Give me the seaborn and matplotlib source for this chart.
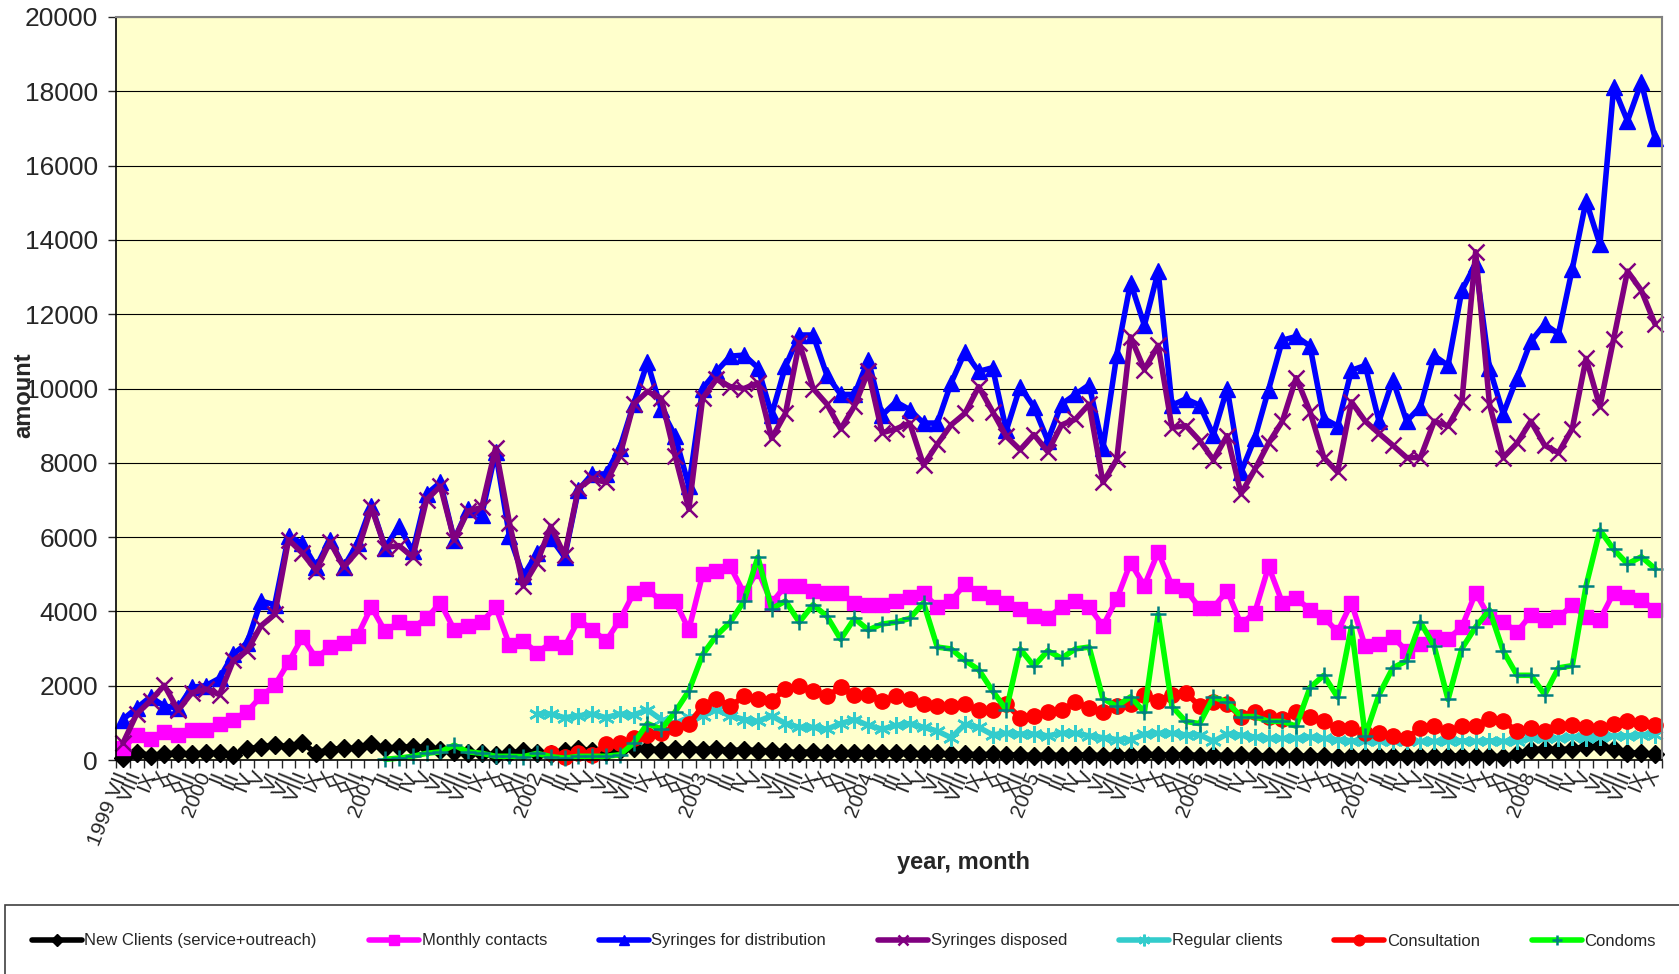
import numpy as np
import pandas as pd
import seaborn as sns
import matplotlib.pyplot as plt
from matplotlib.patches import Rectangle

sns.set_style("white")
plt.rcParams['font.family'] = ['Liberation Sans', 'DejaVu Sans']

# x categories: 1999 VII ... 2008 X
roman = ['I', 'II', 'III', 'IV', 'V', 'VI', 'VII', 'VIII', 'IX', 'X', 'XI', 'XII']
years = [2000, 2001, 2002, 2003, 2004, 2005, 2006, 2007]
month_labels = ['1999 VII'] + roman[7:]
for y in years:
    month_labels += [str(y)] + roman[1:]
month_labels += ['2008'] + roman[1:10]

new_clients = [50, 200, 120, 170, 180, 160, 190, 180, 130, 300,
               350, 400, 360, 450, 190, 280, 320, 310, 430, 310,
               350, 350, 340, 270, 220, 180, 180, 130, 180, 250,
               200, 150, 250, 300, 250, 220, 280, 320, 300, 280,
               300, 300, 280, 300, 250, 280, 250, 250, 220, 200,
               220, 200, 180, 200, 200, 180, 200, 180, 160, 180,
               150, 160, 140, 150, 130, 140, 120, 130, 120, 140,
               130, 120, 140, 130, 150, 140, 130, 140, 120, 130,
               120, 130, 110, 120, 100, 110, 100, 120, 90, 100,
               110, 100, 120, 110, 100, 110, 100, 120, 110, 100,
               90, 150, 280, 300, 280, 300, 350, 380, 300, 200,
               180, 150]

monthly_contacts = [310, 680, 570, 760, 680, 800, 800, 980, 1090, 1300,
                    1710, 2010, 2630, 3300, 2740, 3040, 3150, 3350, 4120, 3460,
                    3710, 3560, 3820, 4230, 3510, 3610, 3710, 4120, 3100, 3200,
                    2890, 3150, 3040, 3770, 3510, 3200, 3770, 4490, 4590, 4280,
                    4280, 3510, 5000, 5100, 5210, 4490, 5100, 4230, 4690, 4690,
                    4540, 4490, 4490, 4230, 4180, 4180, 4280, 4380, 4490, 4120,
                    4280, 4740, 4490, 4380, 4230, 4070, 3870, 3820, 4120, 4280,
                    4120, 3610, 4330, 5310, 4690, 5600, 4690, 4580, 4100, 4100,
                    4560, 3650, 3970, 5210, 4230, 4360, 4040, 3840, 3450, 4230,
                    3060, 3130, 3320, 2930, 3130, 3320, 3260, 3580, 4500, 3840,
                    3710, 3450, 3910, 3780, 3840, 4170, 3840, 3780, 4500, 4400,
                    4300, 4040]

syringes_distr = [1090, 1400, 1700, 1450, 1400, 1960, 2000, 2200, 2850, 3150,
                  4280, 4180, 6030, 5830, 5200, 5930, 5200, 5830, 6850, 5720,
                  6290, 5620, 7160, 7470, 5930, 6750, 6600, 8300, 6030, 4950,
                  5570, 5980, 5460, 7270, 7700, 7700, 8400, 9580, 10700, 9450,
                  8730, 7370, 10000, 10460, 10870, 10900, 10560, 9300, 10600, 11440,
                  11440, 10360, 9840, 9840, 10770, 9280, 9640, 9430, 9070, 9070,
                  10150, 10980, 10460, 10560, 8870, 10050, 9500, 8600, 9580, 9840,
                  10100, 8400, 10900, 12850, 11700, 13150, 9550, 9720, 9550, 8750,
                  10000, 7750, 8660, 9970, 11300, 11400, 11140, 9190, 8990, 10490,
                  10620, 9120, 10230, 9120, 9510, 10880, 10620, 12640, 13360, 10550,
                  9320, 10290, 11270, 11730, 11470, 13220, 15050, 13880, 18110, 17200,
                  18240, 16740]

syringes_disp = [450, 1240, 1600, 2010, 1340, 1810, 1910, 1760, 2680, 2940,
                 3610, 3920, 5930, 5570, 5100, 5870, 5200, 5620, 6800, 5720,
                 5770, 5460, 7010, 7370, 5930, 6700, 6800, 8400, 6390, 4690,
                 5310, 6290, 5510, 7320, 7580, 7470, 8190, 9580, 9920, 9740,
                 8190, 6750, 9740, 10250, 10050, 10000, 10150, 8660, 9330, 11230,
                 10000, 9580, 8910, 9530, 10460, 8810, 8910, 9070, 7940, 8500,
                 9020, 9330, 10050, 9380, 8710, 8350, 8760, 8300, 9020, 9170,
                 9580, 7470, 8090, 11390, 10510, 11160, 8950, 9000, 8600, 8080,
                 8730, 7170, 7820, 8530, 9120, 10290, 9380, 8140, 7750, 9640,
                 9120, 8790, 8470, 8140, 8140, 9120, 8990, 9640, 13680, 9580,
                 8140, 8530, 9120, 8470, 8270, 8920, 10810, 9510, 11340, 13160,
                 12640, 11730]

regular_clients = [None] * 30 + [
    1240, 1240, 1140, 1190, 1240, 1140, 1240, 1210, 1350, 1090,
    980, 1150, 1190, 1350, 1190, 1090, 1040, 1190, 980, 880,
    880, 830, 980, 1090, 930, 830, 930, 980, 880, 780,
    600, 960, 880, 680, 720, 700, 700, 650, 720, 720,
    650, 600, 550, 550, 700, 720, 720, 680, 680, 500,
    700, 670, 620, 580, 580, 580, 620, 580, 540, 520,
    500, 500, 500, 500, 500, 500, 500, 520, 500, 520,
    500, 500, 580, 600, 580, 620, 600, 620, 650, 650,
    680, 680]

consultation = [None] * 31 + [
    180, 90, 180, 140, 420, 450, 580, 680, 730,
    860, 960, 1450, 1650, 1450, 1710, 1650, 1600, 1910, 2000,
    1860, 1710, 1960, 1760, 1760, 1600, 1710, 1650, 1500, 1450,
    1450, 1500, 1350, 1350, 1500, 1140, 1190, 1290, 1350, 1550,
    1400, 1290, 1450, 1500, 1760, 1600, 1760, 1810, 1450, 1560,
    1500, 1170, 1300, 1170, 1110, 1300, 1170, 1040, 850, 850,
    720, 720, 650, 590, 850, 910, 780, 910, 910, 1110,
    1040, 780, 850, 780, 910, 950, 890, 850, 980, 1040,
    1000, 950]

condoms = [None] * 19 + [
    20, 50, 100, 180, 220, 400, 220, 180, 100, 100, 90,
    180, 90, 50, 100, 100, 100, 140, 450, 980, 830,
    1290, 1860, 2840, 3350, 3710, 4280, 5460, 4070, 4280, 3710,
    4180, 3870, 3250, 3810, 3500, 3660, 3710, 3810, 4230, 3040,
    2990, 2680, 2430, 1860, 1350, 2990, 2530, 2940, 2740, 2990,
    3040, 1650, 1450, 1700, 1290, 3920, 1440, 1040, 980, 1690,
    1560, 1170, 1170, 1040, 1040, 910, 1950, 2280, 1690, 3580,
    650, 1760, 2480, 2670, 3710, 3060, 1630, 3000, 3580, 4040,
    2930, 2280, 2280, 1760, 2480, 2540, 4690, 6190, 5670, 5280,
    5470, 5150]

# label, values, line colour, marker, face, edge, size, edge width
series = [
    ("New Clients (service+outreach)", new_clients, "#000000", "D", "#000000", "#000000", 9, 1),
    ("Monthly contacts", monthly_contacts, "#FF00FF", "s", "#FF00FF", "#FF00FF", 10, 1),
    ("Syringes for distribution", syringes_distr, "#0000FF", "^", "#0000FF", "#0000FF", 11, 1),
    ("Syringes disposed", syringes_disp, "#800080", "x", "#800080", "#800080", 11, 1.8),
    ("Regular clients", regular_clients, "#33CCCC", (6, 2, 0), "#33CCCC", "#33CCCC", 12, 1.8),
    ("Consultation", consultation, "#FF0000", "o", "#FF0000", "#FF0000", 11, 1),
    ("Condoms", condoms, "#00FF00", "+", "#008080", "#008080", 11, 1.8),
]

fig = plt.figure(figsize=(16.79, 9.74), dpi=100)
ax = fig.add_axes([116 / 1679, 1 - 760 / 974, (1662 - 116) / 1679, (760 - 17) / 974])
ax.set_facecolor("#FFFFCC")

x_all = np.arange(len(month_labels))
for label, vals, col, mk, mfc, mec, ms, mew in series:
    y = np.array([np.nan if v is None else v for v in vals], dtype=float)
    ok = ~np.isnan(y)
    sns.lineplot(x=x_all[ok], y=y[ok], ax=ax, color=col, linewidth=4,
                 marker=mk, markersize=ms, markerfacecolor=mfc,
                 markeredgecolor=mec, markeredgewidth=mew,
                 label=label, legend=False, errorbar=None, clip_on=False)

ax.set_xlim(-0.5, len(month_labels) - 0.5)
ax.set_ylim(0, 20000)
ax.set_yticks(np.arange(0, 20001, 2000))
ax.yaxis.grid(True, color="black", linewidth=0.8)
ax.set_axisbelow(True)
ax.tick_params(axis="y", labelsize=19, length=6, width=1, direction="out", left=True, pad=7)

ax.set_xticks(np.arange(len(month_labels) + 1) - 0.5)
ax.set_xticklabels([])
ax.set_xticks(x_all, minor=True)
ax.set_xticklabels(month_labels, minor=True, rotation=68, ha="right",
                   va="center", rotation_mode="anchor", fontsize=15)
ax.tick_params(axis="x", which="major", length=6, width=1, direction="out", bottom=True)
ax.tick_params(axis="x", which="minor", length=0, pad=9)
ax.set_xlabel("")
ax.set_ylabel("")

for side in ["left", "bottom"]:
    ax.spines[side].set_color("black")
    ax.spines[side].set_linewidth(1.2)
for side in ["top", "right"]:
    ax.spines[side].set_color("#808080")
    ax.spines[side].set_linewidth(1.5)

fig.text(23.5 / 1679, 1 - 395 / 974, "amount", rotation=90, fontweight="bold",
         fontsize=17, ha="center", va="center")
fig.text(964 / 1679, 1 - 862 / 974, "year, month", fontweight="bold",
         fontsize=17, ha="center", va="center")

# legend box along the bottom
fig.patches.append(Rectangle((5 / 1679, -0.05), 1.0, 0.05 + (974 - 905) / 974,
                             transform=fig.transFigure, fill=False,
                             edgecolor="#404040", linewidth=1.2))
handles, labels = ax.get_legend_handles_labels()
fig.legend(handles, labels, loc="center left", bbox_to_anchor=(32 / 1679, 1 - 941 / 974),
           ncol=7, frameon=False, fontsize=12, handlelength=3.0, handletextpad=0.15,
           columnspacing=3.12, borderpad=0, borderaxespad=0, markerscale=0.7)

fig.savefig("out.png", dpi=100)
